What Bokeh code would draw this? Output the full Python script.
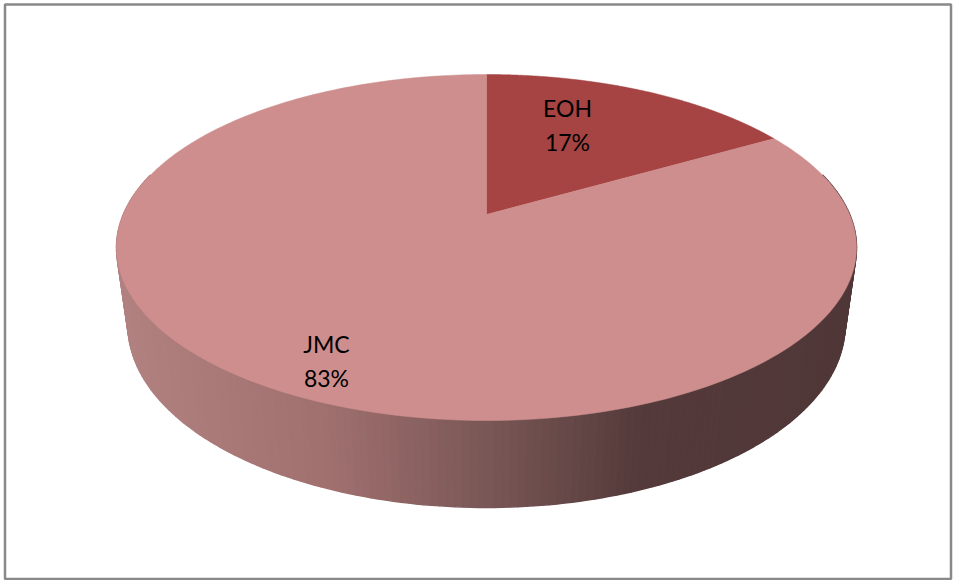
import numpy as np
from bokeh.plotting import figure
from bokeh.models import Range1d
from bokeh.core.properties import value
from bokeh.embed import file_html
from bokeh.resources import INLINE

# ---- data ----
categories = ["EOH", "JMC"]
shares = [16.7, 83.3]
slice_colors = ["#a54443", "#cf8e8e"]

# ---- layout (3D pie projection constants, pixel space) ----
CX, F, K = 486.0, 363.2, 0.1908
A_TOP, C_Z = 214.0, -125.88
W0_BOT, A_BOT = 1.0309, 300.0


def proj(u, v, bottom=False):
    u = np.asarray(u, float)
    v = np.asarray(v, float)
    if bottom:
        w = W0_BOT + K * v
        return CX + F * u / w, (A_BOT + C_Z * v) / w
    w = 1.0 + K * v
    return CX + F * u / w, (A_TOP + C_Z * v) / w


p = figure(width=953, height=580, x_range=Range1d(0, 953), y_range=Range1d(580, 0),
           output_backend="svg", toolbar_location=None, min_border=0,
           background_fill_color="white", border_fill_color="white")
p.axis.visible = False
p.grid.visible = False
p.outline_line_color = None

# ---- side wall with horizontal gradient ----
stops_x = [116, 330, 500, 640, 856]
stops_c = np.array([[178, 130, 129], [160, 112, 111], [118, 85, 84], [84, 58, 58], [80, 55, 56]])


def side_color(x):
    r = np.interp(x, stops_x, stops_c[:, 0])
    g = np.interp(x, stops_x, stops_c[:, 1])
    b = np.interp(x, stops_x, stops_c[:, 2])
    return "#%02x%02x%02x" % (int(round(r)), int(round(g)), int(round(b)))


# front half only (visible wall), slightly extended past the silhouette
N = 200
ts = np.linspace(np.pi - 0.25, 2 * np.pi + 0.25, N + 1)
xs_all, ys_all, cols = [], [], []
for i in range(N):
    t1, t2 = ts[i], ts[i + 1]
    u = np.cos([t1, t2]); v = np.sin([t1, t2])
    xt, yt = proj(u, v)
    xb, yb = proj(u, v, bottom=True)
    xs_all.append([xt[0], xt[1], xb[1], xb[0]])
    ys_all.append([yt[0], yt[1], yb[1], yb[0]])
    cols.append(side_color(np.mean(xs_all[-1])))
p.patches(xs_all, ys_all, fill_color=cols, line_color=cols, line_width=1.5)

# ---- top face slices ----
total = sum(shares)
start = np.pi / 2
for cat, s, col in zip(categories, shares, slice_colors):
    sweep = 2 * np.pi * s / total
    th = np.linspace(start, start - sweep, 300)
    xs, ys = proj(np.cos(th), np.sin(th))
    cx0, cy0 = proj(0.0, 0.0)
    xs = np.concatenate([[cx0], xs]); ys = np.concatenate([[cy0], ys])
    p.patch(xs, ys, fill_color=col, line_color=col, line_width=0.5)
    start -= sweep

# ---- labels ----
pct = [f"{round(100 * s / total)}%" for s in shares]
lab_x = [567, 326]
lab_y = [107, 343]
p.text(x=lab_x, y=lab_y, text=categories, text_align="center", text_baseline="middle",
       text_font=value("Lato"), text_font_size="23px", text_color="black")
p.text(x=lab_x, y=[y + 34 for y in lab_y], text=pct, text_align="center", text_baseline="middle",
       text_font=value("Lato"), text_font_size="23px", text_color="black")

# ---- frame ----
p.quad(left=4.5, right=950.5, top=4, bottom=578.5, fill_color=None,
       line_color="#898989", line_width=2.5)

open("out.html", "w").write(file_html(p, INLINE))
